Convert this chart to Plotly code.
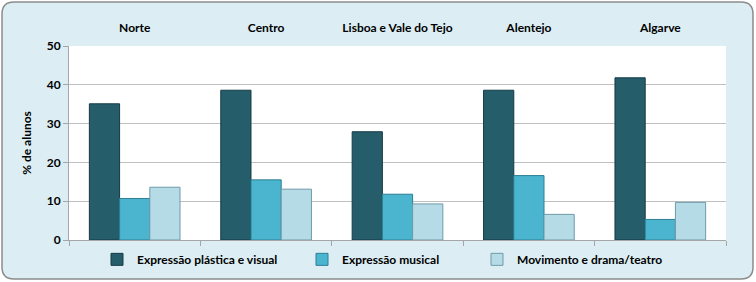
import plotly.graph_objects as go

regions = ["Norte", "Centro", "Lisboa e Vale do Tejo", "Alentejo", "Algarve"]
series_names = ["Expressão plástica e visual", "Expressão musical", "Movimento e drama/teatro"]
plastica = [35.1, 38.6, 27.9, 38.6, 41.8]
musical = [10.7, 15.5, 11.8, 16.6, 5.3]
movimento = [13.6, 13.1, 9.3, 6.6, 9.7]
y_ticks = [0, 10, 20, 30, 40, 50]

colors = ["#255d6b", "#4bb4cf", "#b5dbe7"]
edges = ["#153a44", "#2d7f94", "#6f9aa8"]
legend_widths = [160, 130, 160]

W, H = 756, 282
L, R, T, B = 69, 30, 46, 42
pw, ph = W - L - R, H - T - B

fig = go.Figure()
for name, vals, c, e, lw in zip(series_names, [plastica, musical, movimento], colors, edges, legend_widths):
    fig.add_trace(go.Bar(x=regions, y=vals, name=name, legendwidth=lw,
                         marker=dict(color=c, line=dict(color=e, width=1))))

# invisible trace for bottom boundary ticks
fig.add_trace(go.Scatter(x=[-0.5, 4.5], y=[0, 0], xaxis="x2", mode="lines",
                         line=dict(width=0), showlegend=False, hoverinfo="skip"))

def px(x):
    return (x - L) / pw

def py(y):
    return (H - B - y) / ph

x0, x1, y0, y1 = 2, 753, 2, 279
r = 12
path = (f"M {px(x0+r)} {py(y0)} L {px(x1-r)} {py(y0)} Q {px(x1)} {py(y0)} {px(x1)} {py(y0+r)} "
        f"L {px(x1)} {py(y1-r)} Q {px(x1)} {py(y1)} {px(x1-r)} {py(y1)} "
        f"L {px(x0+r)} {py(y1)} Q {px(x0)} {py(y1)} {px(x0)} {py(y1-r)} "
        f"L {px(x0)} {py(y0+r)} Q {px(x0)} {py(y0)} {px(x0+r)} {py(y0)} Z")

bold = dict(family="Lato, sans-serif", size=12, color="#000", weight="bold")

fig.update_layout(
    width=W, height=H,
    margin=dict(l=L, r=R, t=T, b=B, autoexpand=False),
    paper_bgcolor="white",
    plot_bgcolor="rgba(0,0,0,0)",
    barmode="group",
    bargap=0.31,
    bargroupgap=0,
    font=bold,
    shapes=[dict(type="path", path=path, xref="paper", yref="paper",
                 fillcolor="#dceef4", line=dict(color="#8c8c8c", width=1.5), layer="below"),
            dict(type="rect", x0=0, x1=1, y0=0, y1=1, xref="paper", yref="paper",
                 fillcolor="white", line=dict(width=0), layer="below")],
    xaxis=dict(side="top", showgrid=False, ticks="", showline=False,
               tickfont=bold, ticklabelstandoff=11, fixedrange=True),
    xaxis2=dict(overlaying="x", side="bottom", range=[-0.5, 4.5], tickvals=[-0.5, 0.5, 1.5, 2.5, 3.5, 4.5],
                ticks="outside", ticklen=5, tickcolor="#a6a6a6", showticklabels=False,
                showline=True, linecolor="#a6a6a6", showgrid=False, zeroline=False, anchor="y"),
    yaxis=dict(range=[0, 50], tickvals=y_ticks, showgrid=True, gridcolor="#c0c0c0",
               showline=True, linecolor="#a6a6a6", ticks="outside", ticklen=5, tickcolor="#a6a6a6",
               zeroline=False, tickfont=bold,
               title=dict(text="% de alunos", standoff=12, font=bold)),
    legend=dict(orientation="h", x=px(97), xanchor="left", y=-0.025, yanchor="top",
                bgcolor="rgba(0,0,0,0)", font=bold,
                itemwidth=30, traceorder="normal"),
    showlegend=True,
)

fig.write_html("out.html")
